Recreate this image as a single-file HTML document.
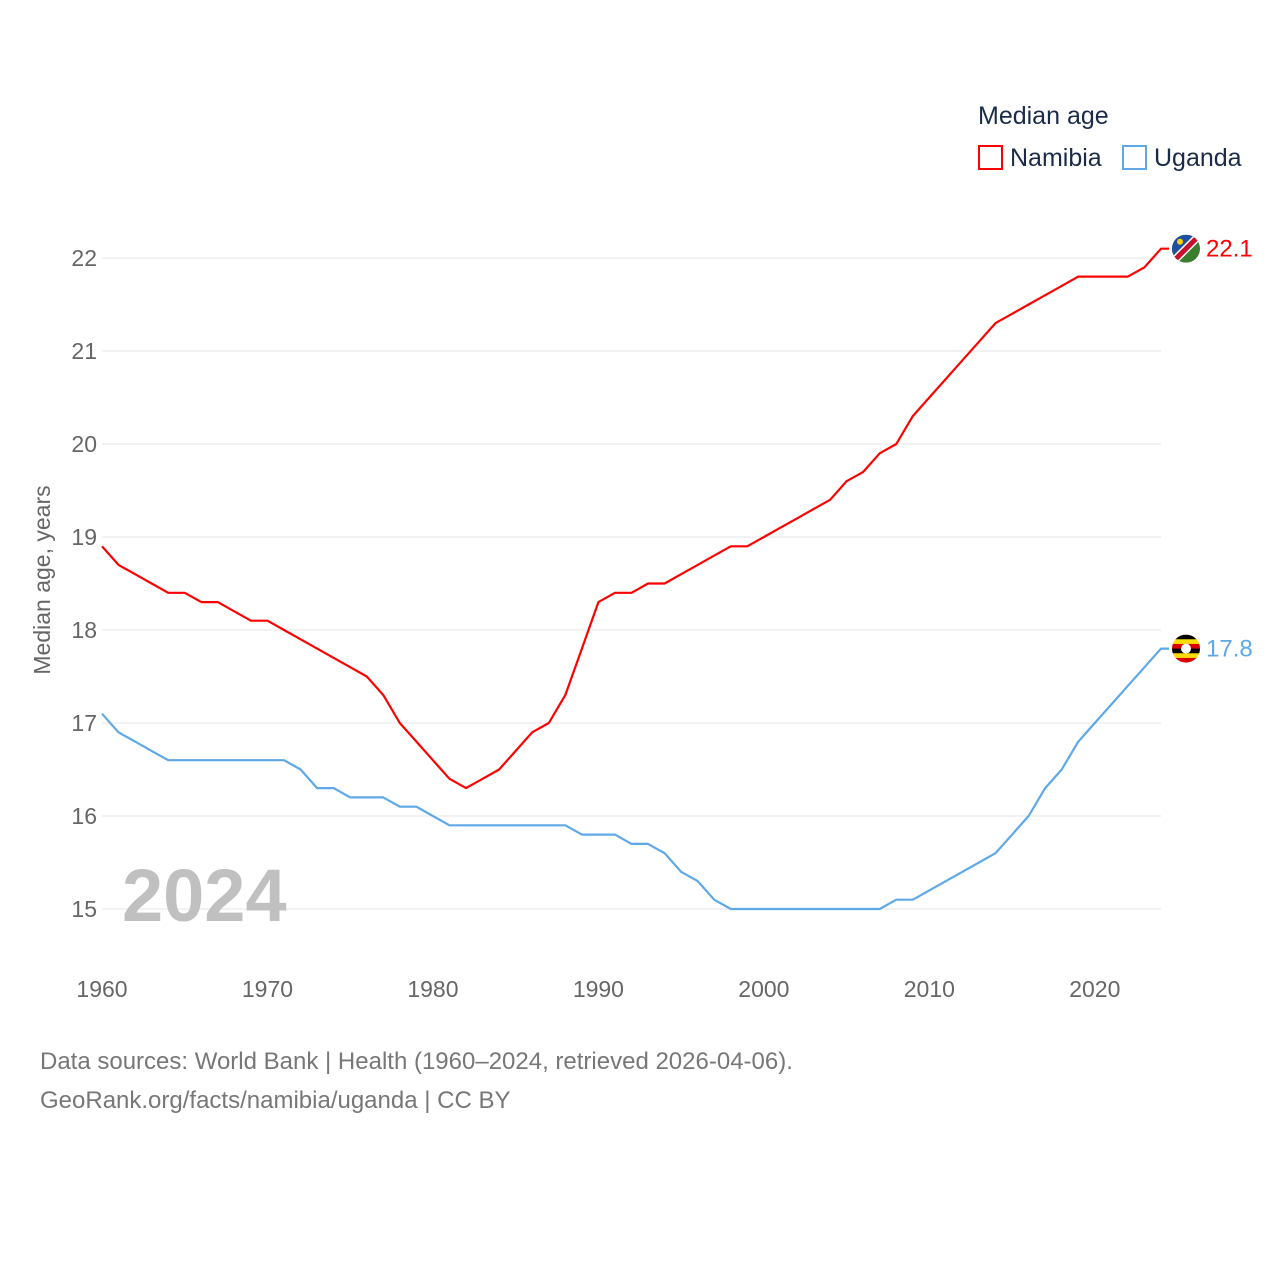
<!DOCTYPE html>
<html><head><meta charset="utf-8"><style>
body{margin:0;background:#fff;font-family:"Liberation Sans",sans-serif}
svg text{font-family:"Liberation Sans",sans-serif}
</style></head><body>
<svg id="chart" width="1280" height="1280">
<text x="978" y="124" font-size="25" fill="#1a2b4a">Median age</text>
<rect x="979" y="146" width="23" height="23" fill="none" stroke="#ff0000" stroke-width="2"/>
<text x="1010" y="166" font-size="25" fill="#1a2b4a">Namibia</text>
<rect x="1123" y="146" width="23" height="23" fill="none" stroke="#5fa8e8" stroke-width="2"/>
<text x="1154" y="166" font-size="25" fill="#1a2b4a">Uganda</text>
<g id="grid"></g>
<text transform="translate(50,580) rotate(-90)" text-anchor="middle" font-size="23" fill="#666">Median age, years</text>
<text x="122" y="921" font-size="74" font-weight="bold" fill="#c0c0c0">2024</text>
<g id="series"></g>
<text x="40" y="1069" font-size="24" fill="#777">Data sources: World Bank | Health (1960–2024, retrieved 2026-04-06).</text>
<text x="40" y="1108" font-size="24" fill="#777">GeoRank.org/facts/namibia/uganda | CC BY</text>
</svg>
<script>
const years=[];for(let y=1960;y<=2024;y++)years.push(y);
const namibia=[18.9,18.7,18.6,18.5,18.4,18.4,18.3,18.3,18.2,18.1,18.1,18.0,17.9,17.8,17.7,17.6,17.5,17.3,17.0,16.8,16.6,16.4,16.3,16.4,16.5,16.7,16.9,17.0,17.3,17.8,18.3,18.4,18.4,18.5,18.5,18.6,18.7,18.8,18.9,18.9,19.0,19.1,19.2,19.3,19.4,19.6,19.7,19.9,20.0,20.3,20.5,20.7,20.9,21.1,21.3,21.4,21.5,21.6,21.7,21.8,21.8,21.8,21.8,21.9,22.1];
const uganda=[17.1,16.9,16.8,16.7,16.6,16.6,16.6,16.6,16.6,16.6,16.6,16.6,16.5,16.3,16.3,16.2,16.2,16.2,16.1,16.1,16.0,15.9,15.9,15.9,15.9,15.9,15.9,15.9,15.9,15.8,15.8,15.8,15.7,15.7,15.6,15.4,15.3,15.1,15.0,15.0,15.0,15.0,15.0,15.0,15.0,15.0,15.0,15.0,15.1,15.1,15.2,15.3,15.4,15.5,15.6,15.8,16.0,16.3,16.5,16.8,17.0,17.2,17.4,17.6,17.8];
const yTicks=[15,16,17,18,19,20,21,22];
const xTicks=[1960,1970,1980,1990,2000,2010,2020];
const X=y=>102+(y-1960)*(1161-102)/64;
const Y=v=>909-(v-15)*93;
const NS="http://www.w3.org/2000/svg";
const grid=document.getElementById('grid'),ser=document.getElementById('series');
function mk(tag,attrs,parent){const e=document.createElementNS(NS,tag);for(const k in attrs)e.setAttribute(k,attrs[k]);parent.appendChild(e);return e;}
yTicks.forEach(t=>{
 const l=mk('line',{x1:102,x2:1161,y1:Y(t),y2:Y(t),stroke:'#e6e6e6','stroke-width':1},grid);
 
 
 const tx=mk('text',{x:97,y:Y(t)+8,'text-anchor':'end','font-size':23,fill:'#666'},grid);tx.textContent=t;
 
 
});
xTicks.forEach(t=>{
 const tx=mk('text',{x:X(t),y:997,'text-anchor':'middle','font-size':23,fill:'#666'},grid);tx.textContent=t;
 
 
});
function line(vals,color,name){
 let d=vals.map((v,i)=>(i?'L':'M')+X(years[i]).toFixed(1)+','+Y(v).toFixed(1)).join('');
 d+='h8';
 const p=mk('path',{d:d,fill:'none',stroke:color,'stroke-width':2.2,'stroke-linejoin':'round'},ser);
 
 
}
line(namibia,'#ff0000','namibia-line');
line(uganda,'#5fa8e8','uganda-line');
const nv=namibia[namibia.length-1],uv=uganda[uganda.length-1];
const cy1=Y(nv);
const fg1=mk('g',{},ser);


const cp1=mk('clipPath',{id:'nac'},fg1);mk('circle',{cx:1186,cy:cy1,r:14},cp1);
const inner=mk('g',{'clip-path':'url(#nac)'},fg1);
mk('rect',{x:1172,y:cy1-14,width:28,height:28,fill:'#3a7d2c'},inner);
mk('path',{d:`M1172,${cy1+14}L1172,${cy1-14}L1200,${cy1-14}Z`,fill:'#1f4fa0'},inner);
mk('line',{x1:1168,y1:cy1+18,x2:1204,y2:cy1-18,stroke:'#fff','stroke-width':8},inner);
mk('line',{x1:1168,y1:cy1+18,x2:1204,y2:cy1-18,stroke:'#c8102e','stroke-width':5},inner);
mk('circle',{cx:1180,cy:cy1-7,r:3,fill:'#ffce00'},inner);
const t1=mk('text',{x:1206,y:cy1+8,'font-size':24,fill:'#ff0000'},ser);t1.textContent=nv.toFixed(1);


const cy2=Y(uv);
const fg2=mk('g',{},ser);


const cols=['#000','#fcdc04','#d90000','#000','#fcdc04','#d90000'];
const cp=mk('clipPath',{id:'ugc'},fg2);mk('circle',{cx:1186,cy:cy2,r:14},cp);
cols.forEach((c,i)=>mk('rect',{x:1172,y:cy2-14+i*28/6,width:28,height:28/6+0.5,fill:c,'clip-path':'url(#ugc)'},fg2));
mk('circle',{cx:1186,cy:cy2,r:5,fill:'#fff'},fg2);
const t2=mk('text',{x:1206,y:cy2+8,'font-size':24,fill:'#5fa8e8'},ser);t2.textContent=uv.toFixed(1);


</script>
</body></html>
